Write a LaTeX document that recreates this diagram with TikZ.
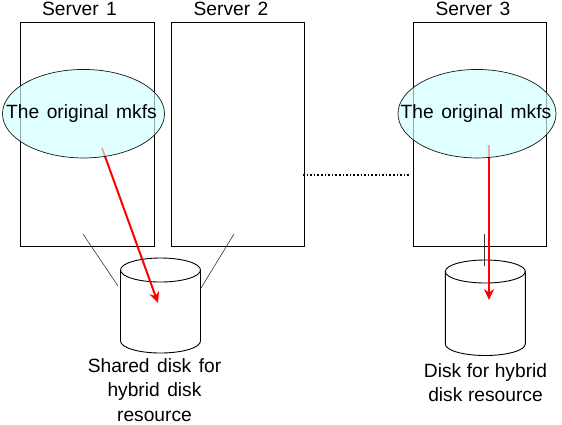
\documentclass[tikz,border=0pt]{standalone}
\usepackage{fontspec}
\setmainfont{Liberation Sans}
\usetikzlibrary{shapes.geometric,arrows.meta}
\definecolor{ovalfill}{HTML}{D1FFFF}
\newcommand{\reffont}{\fontsize{19.2}{24.2}\selectfont\spaceskip=7.5pt\relax}
\newcommand{\reffontb}{\fontsize{19.2}{24.2}\selectfont\spaceskip=5.6pt\relax}
\tikzset{
  serverbox/.style={draw=black,line width=0.9pt,rectangle,minimum width=#1,minimum height=224pt,inner sep=0pt,outer sep=0pt},
  procoval/.style={ellipse,draw=black,line width=0.7pt,fill=ovalfill,fill opacity=0.68,draw opacity=0.9,inner sep=0pt,outer sep=0pt,minimum width=#1,minimum height=88.5pt},
  lbl/.style={font=\reffont,align=center,inner sep=0pt},
  redarrow/.style={draw=red,line width=2pt,-{Stealth[length=11pt,width=10pt,inset=3.5pt]}},
  link/.style={draw=black!80,line width=0.6pt},
  diskbody/.style={draw=black,line width=0.9pt,fill=white},
}
\begin{document}
\begin{tikzpicture}[x=1pt,y=-1pt]
\useasboundingbox (0,0) rectangle (562,424);
\node[lbl] (s1l) at (79.5,9) {Server 1};
\node[lbl] (s2l) at (231,9) {Server 2};
\node[lbl] (s3l) at (473,9) {Server 3};
\node[serverbox=134pt] (s1) at (87.5,134.3) {};
\node[serverbox=132.5pt] (s2) at (237.7,134.3) {};
\node[serverbox=132.5pt] (s3) at (479.7,134.3) {};
% disks
\path[diskbody] (120.5,270) -- (120.5,341) arc[start angle=180,end angle=360,x radius=40,y radius=-12] -- (200.5,270) arc[start angle=0,end angle=180,x radius=40,y radius=-12] -- cycle;
\draw[diskbody,fill=none] (120.5,270) arc[start angle=180,end angle=360,x radius=40,y radius=-12];
\path[diskbody] (445.3,271.5) -- (445.3,344) arc[start angle=180,end angle=360,x radius=40,y radius=-11.5] -- (525.3,271.5) arc[start angle=0,end angle=180,x radius=40,y radius=-11.5] -- cycle;
\draw[diskbody,fill=none] (445.3,271.5) arc[start angle=180,end angle=360,x radius=40,y radius=-11.5];
% connector ends
\coordinate (l1a) at (83,234); \coordinate (l1b) at (118,286);
\coordinate (l2a) at (234,234); \coordinate (l2b) at (201,288);
\coordinate (l3a) at (484,234); \coordinate (l3b) at (484,266);
\coordinate (d1a) at (303,175); \coordinate (d1b) at (409,175);
\coordinate (r1a) at (102,148); \coordinate (r1b) at (158,303);
\coordinate (r2a) at (489,145); \coordinate (r2b) at (489,300);
\draw[link] (l1a) -- (l1b);
\draw[link] (l2a) -- (l2b);
\draw[link] (l3a) -- (l3b);
\draw[line width=1.2pt,dash pattern=on 1.6pt off 2pt] (d1a) -- (d1b);
\draw[redarrow] (r1a) -- (r1b);
\draw[redarrow] (r2a) -- (r2b);
\node[procoval=162pt] (e1) at (83.5,113.7) {};
\node[procoval=158pt] (e3) at (477,113.7) {};
\node[lbl,xshift=-2pt] (e1t) at (e1) {The original mkfs};
\node[lbl,xshift=-1pt] (e3t) at (e3) {The original mkfs};
\node[lbl] (t1) at (154.5,390) {Shared disk for\\hybrid disk\\resource};
\node[lbl,font=\reffontb] (t2) at (485.5,382.5) {Disk for hybrid\\disk resource};
\end{tikzpicture}
\end{document}
